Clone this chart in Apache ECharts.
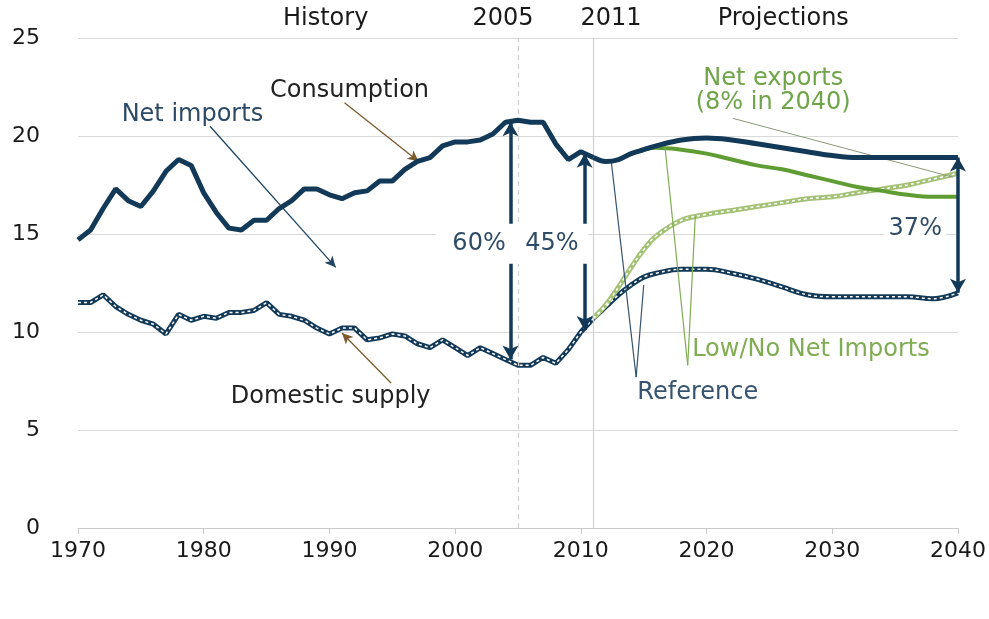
<!DOCTYPE html>
<html>
<head>
<meta charset="utf-8">
<script src="https://cdn.jsdelivr.net/npm/echarts@6/dist/echarts.min.js"></script>
<style>
  html, body { margin: 0; padding: 0; background: #fff; }
  #chart { width: 989px; height: 619px; }
</style>
</head>
<body>
<div id="chart"></div>
<script>
// history, million barrels per day
const histYears = [1970, 1971, 1972, 1973, 1974, 1975, 1976, 1977, 1978, 1979,
  1980, 1981, 1982, 1983, 1984, 1985, 1986, 1987, 1988, 1989,
  1990, 1991, 1992, 1993, 1994, 1995, 1996, 1997, 1998, 1999,
  2000, 2001, 2002, 2003, 2004, 2005, 2006, 2007, 2008, 2009, 2010, 2011];
const histConsumption = [14.7, 15.2, 16.3, 17.3, 16.7, 16.4, 17.2, 18.2, 18.8, 18.5,
  17.1, 16.1, 15.3, 15.2, 15.7, 15.7, 16.3, 16.7, 17.3, 17.3,
  17.0, 16.8, 17.1, 17.2, 17.7, 17.7, 18.3, 18.7, 18.9, 19.5,
  19.7, 19.7, 19.8, 20.1, 20.7, 20.8, 20.7, 20.7, 19.6, 18.8, 19.2, 18.9];
const histSupply = [11.5, 11.5, 11.9, 11.3, 10.9, 10.6, 10.4, 9.9, 10.9, 10.6,
  10.8, 10.7, 11.0, 11.0, 11.1, 11.5, 10.9, 10.8, 10.6, 10.2,
  9.9, 10.2, 10.2, 9.6, 9.7, 9.9, 9.8, 9.4, 9.2, 9.6,
  9.2, 8.8, 9.2, 8.9, 8.6, 8.3, 8.3, 8.7, 8.4, 9.1, 10.0, 10.7];

// projections
const projYears = [2011, 2012, 2013, 2014, 2015, 2016, 2018, 2020, 2022, 2024,
  2026, 2028, 2030, 2032, 2034, 2036, 2038, 2040];
const refConsumption = [18.9, 18.7, 18.8, 19.1, 19.3, 19.5, 19.8, 19.9, 19.8, 19.6,
  19.4, 19.2, 19.0, 18.9, 18.9, 18.9, 18.9, 18.9];
const refSupply = [10.7, 11.3, 11.9, 12.4, 12.8, 13.0, 13.2, 13.2, 13.0, 12.7,
  12.3, 11.9, 11.8, 11.8, 11.8, 11.8, 11.7, 12.0];
const lowConsYears = [2013, 2014, 2015, 2016, 2018, 2020, 2022, 2024,
  2026, 2028, 2030, 2032, 2034, 2036, 2038, 2040];
const lowConsumption = [18.8, 19.1, 19.3, 19.4, 19.3, 19.1, 18.8, 18.5,
  18.3, 18.0, 17.7, 17.4, 17.2, 17.0, 16.9, 16.9];
const lowSupply = [10.7, 11.4, 12.3, 13.3, 14.2, 14.9, 15.7, 16.0, 16.2, 16.4,
  16.6, 16.8, 16.9, 17.1, 17.3, 17.5, 17.8, 18.1];

const yTicks = [0, 5, 10, 15, 20, 25];
const markerYears = [2005, 2011];

// import-share arrows: [year, consumption, supply]
const shareArrows = [[2004.4, 20.7, 8.6], [2010.3, 19.1, 10.1], [2040, 18.9, 12.0]];
const shareLabels = ['60%', '45%', '37%'];
const netExportArrow = [2040.4, 18.1, 16.9];

const pairs = (xs, ys) => xs.map((x, i) => [x, ys[i]]);

const NAVY = '#123a58';
const GREEN = '#5f9c33';
const CHAIN_GREEN = '#a4c276';
const BROWN = '#7b5a2e';
const FONT = 'DejaVu Sans';

const chart = echarts.init(document.getElementById('chart'));

function chain(name, data, color, smooth) {
  return [
    { name, type: 'line', data, smooth, symbol: 'none', z: 2,
      lineStyle: { color, width: 5 } },
    { name: name + ' pattern', type: 'line', data, smooth, symbol: 'none', z: 3,
      lineStyle: { color: '#fff', width: 1.5, type: [3, 3] } },
  ];
}

function marks(name, lineStyle, items, symbol, symbolSize, z) {
  return {
    name, type: 'line', data: [], z,
    markLine: {
      silent: true, animation: false, symbol, symbolSize,
      label: { show: false }, lineStyle, data: items,
    },
  };
}

const seg = (a, b) => [{ coord: a }, { coord: b }];

// text notes [text, year, value, color]
const notes = [
  ['History', 1989.7, 26.0, '#1a1a1a'],
  ['2005', 2003.8, 26.0, '#1a1a1a'],
  ['2011', 2012.4, 26.0, '#1a1a1a'],
  ['Projections', 2026.1, 26.0, '#1a1a1a'],
  ['Consumption', 1991.6, 22.3, '#222'],
  ['Net imports', 1979.1, 21.1, '#2c4a66'],
  ['Domestic supply', 1990.1, 6.7, '#222'],
  ['Net exports\n(8% in 2040)', 2025.3, 22.3, '#6fa548'],
  ['Reference', 2019.3, 6.9, '#36546f'],
  ['Low/No Net Imports', 2028.3, 9.1, '#80ad52'],
];
const shareLabelPos = [[2001.9, 14.5, 16], [2007.7, 14.5, 9], [2036.6, 15.25, 4]];

const option = {
  animation: false,
  backgroundColor: '#fff',
  grid: { left: 78, right: 28, top: 38, bottom: 91 },
  xAxis: {
    type: 'value', min: 1970, max: 2040, interval: 10,
    axisLine: { lineStyle: { color: '#c9c9c9' } },
    axisTick: { show: true, length: 6, lineStyle: { color: '#c9c9c9' } },
    splitLine: { show: false },
    axisLabel: { color: '#1a1a1a', fontFamily: FONT, fontSize: 22, margin: 12,
      formatter: v => String(v) },
  },
  yAxis: {
    type: 'value', min: yTicks[0], max: yTicks[yTicks.length - 1], interval: 5,
    axisLine: { show: false }, axisTick: { show: false },
    splitLine: { lineStyle: { color: '#d9d9d9' } },
    axisLabel: { color: '#1a1a1a', fontFamily: FONT, fontSize: 22, margin: 38 },
  },
  series: [
    marks('markers', { color: '#cfcfcf', width: 1.2, type: 'solid' },
      markerYears.map((y, i) => ({ xAxis: y, lineStyle: { type: i === 0 ? [5, 4] : 'solid' } })),
      'none', 0, 1),
    ...chain('Reference supply', pairs(projYears, refSupply), NAVY, 0.4),
    ...chain('Low supply', pairs(projYears, lowSupply), CHAIN_GREEN, 0.4),
    ...chain('Domestic supply', pairs(histYears, histSupply), NAVY, false),
    { name: 'Low consumption', type: 'line', data: pairs(lowConsYears, lowConsumption),
      smooth: 0.4, symbol: 'none', z: 4, lineStyle: { color: GREEN, width: 4 } },
    { name: 'Consumption', type: 'line', data: pairs(histYears, histConsumption),
      symbol: 'none', z: 5, lineStyle: { color: NAVY, width: 5 } },
    { name: 'Reference consumption', type: 'line', data: pairs(projYears, refConsumption),
      smooth: 0.4, symbol: 'none', z: 5, lineStyle: { color: NAVY, width: 5 } },
    marks('pointers', { color: '#36546f', width: 1.2, type: 'solid' }, [
      seg([2014.4, 7.7], [2012.4, 18.8]),
      seg([2014.4, 7.7], [2015.0, 12.4]),
    ], 'none', 0, 6),
    marks('low pointers', { color: '#80ad52', width: 1.2, type: 'solid' }, [
      seg([2018.5, 8.3], [2016.7, 19.4]),
      seg([2018.5, 8.3], [2019.1, 15.9]),
    ], 'none', 0, 6),
    marks('export pointer', { color: '#8a9878', width: 1, type: 'solid' }, [
      seg([2022.1, 20.9], [2039.6, 17.9]),
    ], 'none', 0, 6),
    marks('brown arrows', { color: BROWN, width: 1.3, type: 'solid' }, [
      seg([1991.2, 21.7], [1997.1, 18.7]),
      seg([1994.9, 7.4], [1991.0, 9.95]),
    ], ['none', 'arrow'], [8, 11], 6),
    marks('import arrow', { color: '#1f4663', width: 1.3, type: 'solid' }, [
      seg([1980.5, 20.5], [1990.5, 13.3]),
    ], ['none', 'arrow'], [8, 11], 6),
    marks('shares', { color: NAVY, width: 3.5, type: 'solid' },
      shareArrows.map(([x, top, bottom]) => seg([x, top], [x, bottom])),
      ['arrow', 'arrow'], [12, 14], 7),
    marks('net exports', { color: '#6aa83a', width: 3, type: 'solid' },
      [seg([netExportArrow[0], netExportArrow[1]], [netExportArrow[0], netExportArrow[2]])],
      ['arrow', 'arrow'], [9, 8], 7),
    {
      name: 'notes', type: 'scatter', symbolSize: 0, clip: false, z: 10, silent: true,
      itemStyle: { opacity: 1 },
      data: [
        ...notes.map(([text, x, y, color]) => ({
          value: [x, y],
          label: { show: true, position: 'inside', formatter: text, color,
            fontFamily: FONT, fontSize: 24, lineHeight: 24, align: 'center',
            textBorderWidth: 0 },
        })),
        ...shareLabels.map((text, i) => ({
          value: [shareLabelPos[i][0], shareLabelPos[i][1]],
          label: { show: true, position: 'inside', formatter: text, color: '#2f4c66',
            fontFamily: FONT, fontSize: 24, backgroundColor: '#fff', textBorderWidth: 0,
            padding: [8, shareLabelPos[i][2]] },
        })),
      ],
    },
  ],
};

chart.setOption(option);
</script>
</body>
</html>
